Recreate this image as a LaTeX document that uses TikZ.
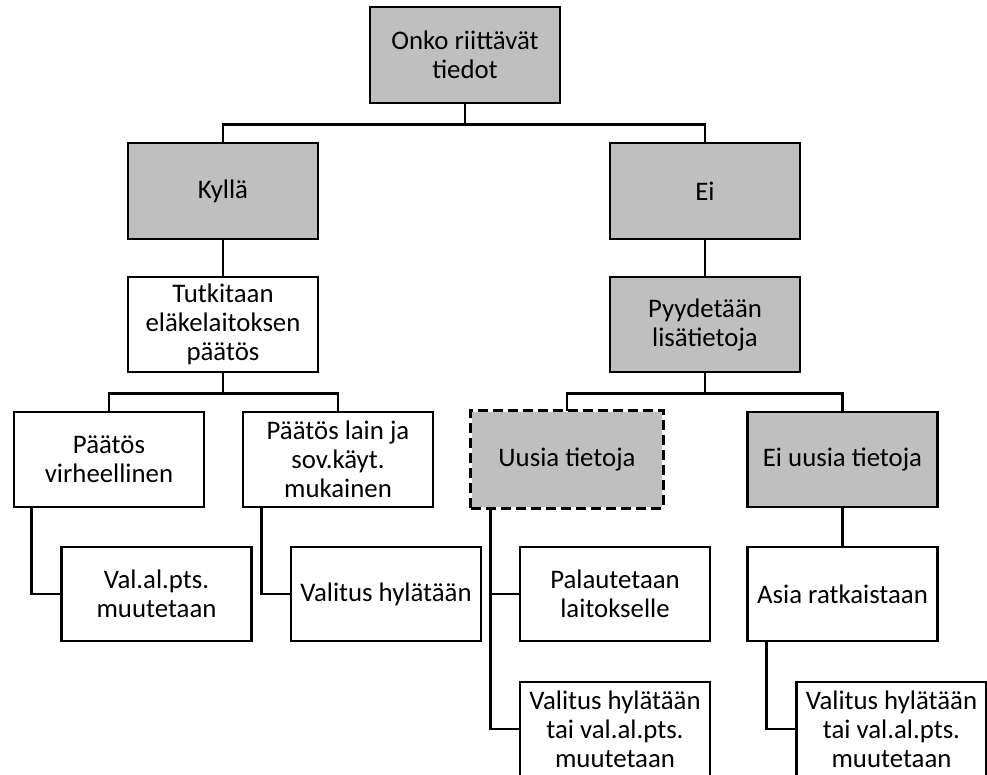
\documentclass[tikz,border=0pt]{standalone}
\usepackage{fontspec}
\setmainfont{Carlito}
\begin{document}
\begin{tikzpicture}[x=1pt,y=-1pt,
  box/.style={draw=black,line width=2.7pt,fill=white,minimum width=190pt,minimum height=95pt,
    inner sep=0pt,align=center,font=\fontsize{26.8}{29}\selectfont},
  grey/.style={box,fill=boxgrey},
  link/.style={line width=2.7pt},
]
\definecolor{boxgrey}{HTML}{BFBFBF}
\useasboundingbox (0,0) rectangle (987,774);
\clip (0,0) rectangle (987,774);

% decision tree nodes
\node[grey,minimum height=96pt] (top) at (465,55) {Onko riittävät\\tiedot};
\node[grey,minimum height=96pt] (kylla) at (223,191) {Kyllä};
\node[grey,minimum height=96pt] (ei) at (705,191) {Ei};
\node[box] (tutk) at (223,324.5) {Tutkitaan\\eläkelaitoksen\\päätös};
\node[grey] (pyyd) at (705,324.5) {Pyydetään\\lisätietoja};
\node[box] (pv) at (109,459.5) {Päätös\\virheellinen};
\node[box] (pl) at (338,459.5) {Päätös lain ja\\sov.käyt.\\mukainen};
\node[grey,draw=none] (uusia) at (567,459.5) {Uusia tietoja};
\draw[line width=2.7pt,dash pattern=on 10pt off 5pt] (uusia.south west) rectangle (uusia.north east);
\node[grey] (eiuus) at (842.5,459.5) {Ei uusia tietoja};
\node[box,minimum height=94pt] (val) at (156.5,594) {Val.al.pts.\\muutetaan};
\node[box,minimum height=94pt] (hyl) at (386,594) {Valitus hylätään};
\node[box,minimum height=94pt] (pal) at (615,594) {Palautetaan\\laitokselle};
\node[box,minimum height=94pt] (asia) at (842.5,594) {Asia ratkaistaan};
\node[box,minimum height=94pt] (vh1) at (615,729) {Valitus hylätään\\tai val.al.pts.\\muutetaan};
\node[box,minimum height=94pt] (vh2) at (891.5,729) {Valitus hylätään\\tai val.al.pts.\\muutetaan};

% connectors
\draw[link] (top.south) -- ++(0,20) -| (kylla.north);
\draw[link] (top.south) -- ++(0,20) -| (ei.north);
\draw[link] (kylla.south) -- (tutk.north);
\draw[link] (ei.south) -- (pyyd.north);
\draw[link] (tutk.south) -- ++(0,20) -| (pv.north);
\draw[link] (tutk.south) -- ++(0,20) -| (pl.north);
\draw[link] (pyyd.south) -- ++(0,20) -| (uusia.north);
\draw[link] (pyyd.south) -- ++(0,20) -| (eiuus.north);
\draw[link] (eiuus.south) -- (asia.north);
\draw[link] ([xshift=19pt]pv.south west) |- (val.west);
\draw[link] ([xshift=20pt]pl.south west) |- (hyl.west);
\draw[link] ([xshift=20pt]uusia.south west) |- (pal.west);
\draw[link] ([xshift=20pt]uusia.south west) |- (vh1.west);
\draw[link] ([xshift=20pt]asia.south west) |- (vh2.west);
\end{tikzpicture}
\end{document}
